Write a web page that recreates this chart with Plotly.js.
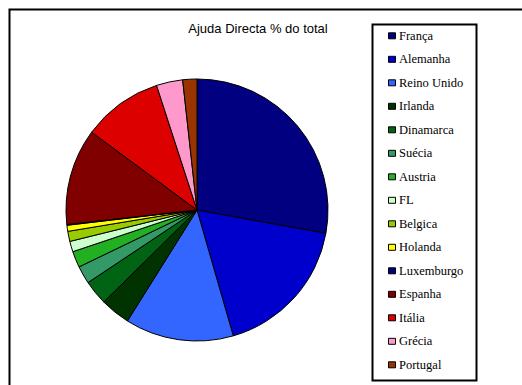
<!DOCTYPE html>
<html>
<head>
<meta charset="utf-8">
<script src="https://cdn.plot.ly/plotly-3.0.1.min.js"></script>
<style>html,body{margin:0;padding:0;background:#fff;}#chart{width:522px;height:385px;}</style>
</head>
<body>
<div id="chart"></div>
<script>
const categories = ["França","Alemanha","Reino Unido","Irlanda","Dinamarca","Suécia","Austria","FL","Belgica","Holanda","Luxemburgo","Espanha","Itália","Grécia","Portugal"];
const values = [27.9,17.7,13.4,3.7,3.05,2.2,2.0,1.3,1.25,0.75,0.1,11.9,9.9,3.25,1.75];
const colors = ["#000080","#0000CC","#3366FF","#003300","#006414","#339966","#22B022","#CCFFCC","#99CC00","#FFFF00","#000080","#800000","#DD0000","#FF99CC","#993300"];
const chartTitle = "Ajuda Directa % do total";

const W = 522, H = 385;
const px = x => x / W;
const py = y => 1 - y / H;

const cx = 197, cy = 210, r = 131;

const trace = {
  type: "pie",
  labels: categories,
  values: values,
  sort: false,
  direction: "clockwise",
  rotation: 0,
  textinfo: "none",
  hoverinfo: "label+percent",
  marker: {colors: colors, line: {color: "#000", width: 1}},
  domain: {x: [px(cx - r), px(cx + r)], y: [py(cy + r), py(cy - r)]},
  showlegend: false
};

const shapes = [
  {type: "rect", xref: "paper", yref: "paper", x0: px(9.5), x1: 1.1, y0: -0.1, y1: py(9.5), line: {color: "#000", width: 2}},
  {type: "rect", xref: "paper", yref: "paper", x0: px(372.5), x1: px(476.5), y0: py(380.5), y1: py(24.5), line: {color: "#000", width: 2}, fillcolor: "rgba(0,0,0,0)"}
];
const annotations = [];
const legTop = 35.8, legStep = 23.5;
categories.forEach((c, i) => {
  const yc = legTop + i * legStep;
  shapes.push({type: "rect", xref: "paper", yref: "paper", x0: px(388.5), x1: px(395.5), y0: py(yc + 3), y1: py(yc - 3), fillcolor: colors[i], line: {color: "#000", width: 1}});
  annotations.push({xref: "paper", yref: "paper", x: px(396.5), y: py(yc), xanchor: "left", yanchor: "middle", text: c, showarrow: false, font: {family: "Liberation Serif, Times New Roman, serif", size: 12.5, color: "#000"}});
});

const layout = {
  width: W, height: H,
  margin: {l: 0, r: 0, t: 0, b: 0},
  paper_bgcolor: "#fff",
  title: {text: chartTitle, x: px(258), xanchor: "center", y: py(28), yanchor: "middle", font: {family: "Liberation Sans, Arial, sans-serif", size: 13, color: "#000"}},
  shapes: shapes,
  annotations: annotations,
  showlegend: false
};

Plotly.newPlot("chart", [trace], layout, {displayModeBar: false, staticPlot: true});
</script>
</body>
</html>
